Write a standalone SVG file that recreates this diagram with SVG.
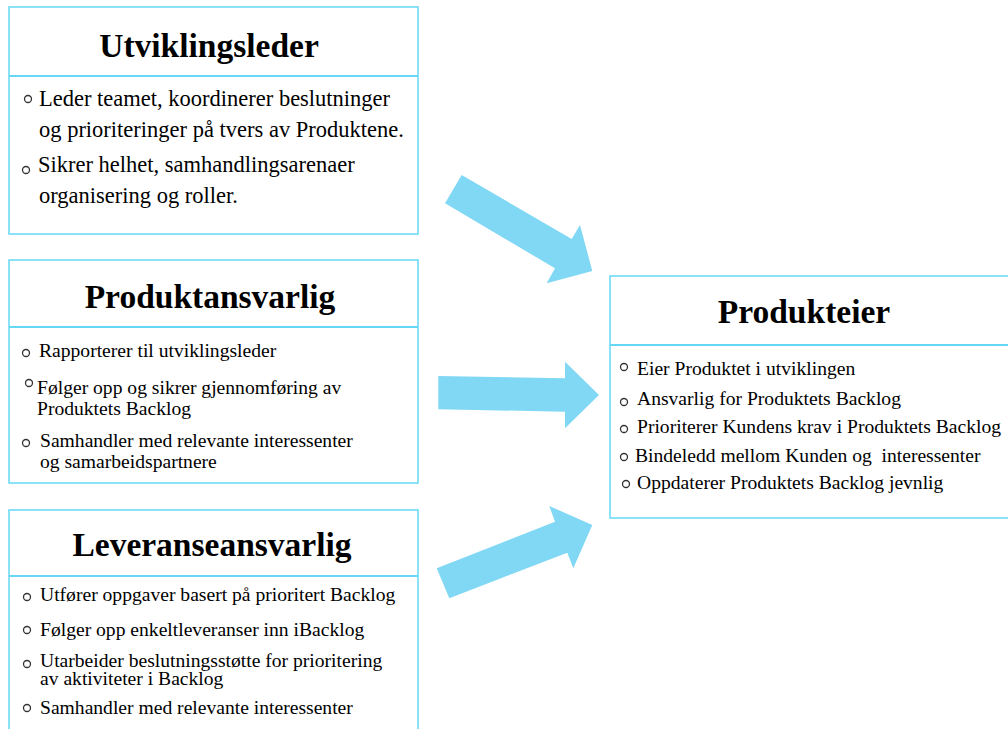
<svg xmlns="http://www.w3.org/2000/svg" width="1008" height="729" viewBox="0 0 1008 729">
  <style>
    .box { fill: #ffffff; stroke: #66d8f6; stroke-width: 1.5; }
    .div { stroke: #66d8f6; stroke-width: 2; }
    .title { font-family: "Liberation Serif", "Times New Roman", serif; font-weight: bold; font-size: 33.5px; fill: #000; text-anchor: middle; }
    .item { font-family: "Liberation Serif", "Times New Roman", serif; font-size: 19.6px; fill: #000; }
    .big { font-size: 22.5px; }
    .bul { fill: #fff; stroke: #333; stroke-width: 1.3; }
    .arrow { fill: #80d8f4; }
  </style>
  <rect width="1008" height="729" fill="#ffffff"/>

  <g id="connectors">
    <polygon class="arrow" points="461.7,175 571.7,239 580,225 592.3,271 546.7,283.3 555,268.3 445,203.3"/>
    <polygon class="arrow" points="438.3,376 565,378.3 565,361.7 599,395 565,428.3 565,411.7 438.3,409.3"/>
    <polygon class="arrow" points="436.7,568.3 555,521.7 549.3,506 592.3,525 573.3,568.3 567.3,552.7 449.3,598.3"/>
  </g>

  <g id="utviklingsleder">
    <rect class="box" x="9" y="7" width="409" height="227"/>
    <line class="div" x1="9" y1="76" x2="418" y2="76"/>
    <text class="title" x="209" y="57">Utviklingsleder</text>
    <circle class="bul" cx="28" cy="99" r="3.5"/>
    <text class="item big" x="39" y="106">Leder teamet, koordinerer beslutninger</text>
    <text class="item big" x="39" y="137">og prioriteringer på tvers av Produktene.</text>
    <circle class="bul" cx="26" cy="170" r="3.5"/>
    <text class="item big" x="38" y="172">Sikrer helhet, samhandlingsarenaer</text>
    <text class="item big" x="39" y="203">organisering og roller.</text>
  </g>

  <g id="produktansvarlig">
    <rect class="box" x="9" y="260" width="409" height="223"/>
    <line class="div" x1="9" y1="327" x2="418" y2="327"/>
    <text class="title" x="210" y="308">Produktansvarlig</text>
    <circle class="bul" cx="26" cy="353" r="3.5"/>
    <text class="item" x="39" y="357">Rapporterer til utviklingsleder</text>
    <circle class="bul" cx="29" cy="383" r="3.5"/>
    <text class="item" x="37" y="394">Følger opp og sikrer gjennomføring av</text>
    <text class="item" x="37" y="415">Produktets Backlog</text>
    <circle class="bul" cx="26" cy="443" r="3.5"/>
    <text class="item" x="40" y="447">Samhandler med relevante interessenter</text>
    <text class="item" x="40" y="468">og samarbeidspartnere</text>
  </g>

  <g id="leveranseansvarlig">
    <rect class="box" x="9" y="510" width="409" height="230"/>
    <line class="div" x1="9" y1="576" x2="418" y2="576"/>
    <text class="title" x="212" y="556">Leveranseansvarlig</text>
    <circle class="bul" cx="27" cy="597" r="3.5"/>
    <text class="item" x="40" y="601">Utfører oppgaver basert på prioritert Backlog</text>
    <circle class="bul" cx="27" cy="630" r="3.5"/>
    <text class="item" x="40" y="636">Følger opp enkeltleveranser inn iBacklog</text>
    <circle class="bul" cx="27" cy="664" r="3.5"/>
    <text class="item" x="40" y="667">Utarbeider beslutningsstøtte for prioritering</text>
    <text class="item" x="40" y="685">av aktiviteter i Backlog</text>
    <circle class="bul" cx="27" cy="708" r="3.5"/>
    <text class="item" x="40" y="714">Samhandler med relevante interessenter</text>
  </g>

  <g id="produkteier">
    <rect class="box" x="610" y="276" width="410" height="242"/>
    <line class="div" x1="610" y1="345" x2="1020" y2="345"/>
    <text class="title" x="804" y="323">Produkteier</text>
    <circle class="bul" cx="624" cy="367" r="3.5"/>
    <text class="item" x="637" y="375">Eier Produktet i utviklingen</text>
    <circle class="bul" cx="624" cy="402" r="3.5"/>
    <text class="item" x="637" y="405">Ansvarlig for Produktets Backlog</text>
    <circle class="bul" cx="624" cy="429" r="3.5"/>
    <text class="item" x="637" y="433">Prioriterer Kundens krav i Produktets Backlog</text>
    <circle class="bul" cx="624" cy="457" r="3.5"/>
    <text class="item" x="635" y="462" xml:space="preserve">Bindeledd mellom Kunden og  interessenter</text>
    <circle class="bul" cx="626" cy="484" r="3.5"/>
    <text class="item" x="637" y="489">Oppdaterer Produktets Backlog jevnlig</text>
  </g>
</svg>
